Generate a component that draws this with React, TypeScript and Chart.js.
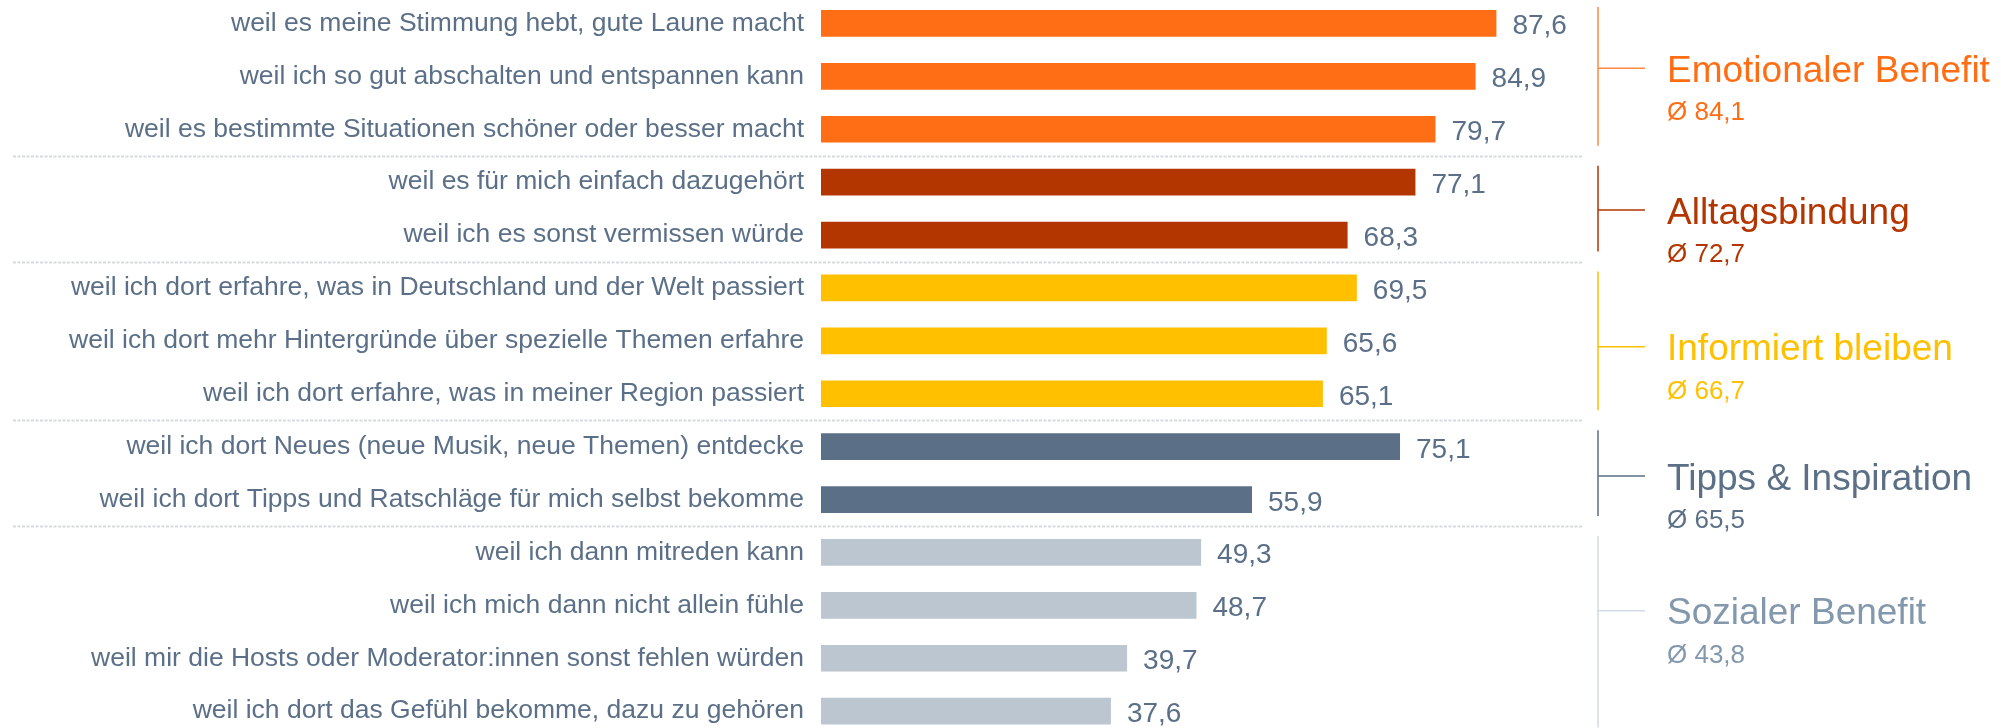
import React, { useEffect, useRef } from "react";
import { Chart, registerables } from "chart.js";

Chart.register(...registerables);

const categories = [
  "weil es meine Stimmung hebt, gute Laune macht",
  "weil ich so gut abschalten und entspannen kann",
  "weil es bestimmte Situationen schöner oder besser macht",
  "weil es für mich einfach dazugehört",
  "weil ich es sonst vermissen würde",
  "weil ich dort erfahre, was in Deutschland und der Welt passiert",
  "weil ich dort mehr Hintergründe über spezielle Themen erfahre",
  "weil ich dort erfahre, was in meiner Region passiert",
  "weil ich dort Neues (neue Musik, neue Themen) entdecke",
  "weil ich dort Tipps und Ratschläge für mich selbst bekomme",
  "weil ich dann mitreden kann",
  "weil ich mich dann nicht allein fühle",
  "weil mir die Hosts oder Moderator:innen sonst fehlen würden",
  "weil ich dort das Gefühl bekomme, dazu zu gehören",
];

const values = [87.6, 84.9, 79.7, 77.1, 68.3, 69.5, 65.6, 65.1, 75.1, 55.9, 49.3, 48.7, 39.7, 37.6];

const groupNames = [
  "Emotionaler Benefit",
  "Alltagsbindung",
  "Informiert bleiben",
  "Tipps & Inspiration",
  "Sozialer Benefit",
];
const groupMeans = [84.1, 72.7, 66.7, 65.5, 43.8];
const groupSizes = [3, 2, 3, 2, 4];

// styles
const FONT = '"Liberation Sans", Arial, Helvetica, sans-serif';
const TEXT = "#5B7088";
const barColors = ["#FF6D14", "#B33600", "#FFC000", "#5B7086", "#BCC6D0"];
const titleColors = ["#FF6D14", "#B33600", "#FFC000", "#5B7086", "#8398AD"];
const lineColors = ["#FF8A45", "#B33600", "#FFC000", "#5B7086", "#D3DAE1"];
const titleShift = [-8, 1.5, 6, 3, -21];

const fmt = (v: number) => v.toFixed(1).replace(".", ",");

const barGroup: number[] = [];
groupSizes.forEach((n, g) => {
  for (let k = 0; k < n; k++) barGroup.push(g);
});

const annotate = {
  id: "annotate",
  afterDraw(chart: any) {
    const ctx = chart.ctx as CanvasRenderingContext2D;
    const y = chart.scales.y;
    const meta = chart.getDatasetMeta(0);
    const band = y.getPixelForValue(1) - y.getPixelForValue(0);
    ctx.save();

    // value labels
    ctx.font = `28px ${FONT}`;
    ctx.fillStyle = TEXT;
    ctx.textAlign = "left";
    ctx.textBaseline = "alphabetic";
    meta.data.forEach((bar: any, i: number) => {
      ctx.fillText(fmt(values[i]), bar.x + 16, bar.y + 11);
    });

    const lineX = 1598;
    const tickEnd = 1645;
    const textX = 1667;
    let start = 0;
    groupSizes.forEach((n, g) => {
      const end = start + n - 1;
      const top = y.getPixelForValue(start) - band / 2;
      const bottom = y.getPixelForValue(end) + band / 2;

      // dotted separator
      if (end < values.length - 1) {
        ctx.save();
        ctx.strokeStyle = "#D5DBE1";
        ctx.lineWidth = 2;
        ctx.setLineDash([3, 1.5]);
        ctx.beginPath();
        ctx.moveTo(13, Math.round(bottom) + 0.5);
        ctx.lineTo(1582, Math.round(bottom) + 0.5);
        ctx.stroke();
        ctx.restore();
      }

      // bracket
      const lt = top + 10;
      const lb = bottom - 10;
      const ty = (lt + lb) / 2 + titleShift[g];
      ctx.strokeStyle = lineColors[g];
      ctx.lineWidth = 1.5;
      ctx.beginPath();
      ctx.moveTo(lineX, lt);
      ctx.lineTo(lineX, lb);
      ctx.moveTo(lineX, ty);
      ctx.lineTo(tickEnd, ty);
      ctx.stroke();

      ctx.fillStyle = titleColors[g];
      ctx.textAlign = "left";
      ctx.textBaseline = "alphabetic";
      ctx.font = `37px ${FONT}`;
      ctx.fillText(groupNames[g], textX, ty + 13.5);
      ctx.font = `26px ${FONT}`;
      ctx.fillText("\u00D8 " + fmt(groupMeans[g]), textX, ty + 52);

      start += n;
    });
    ctx.restore();
  },
};

export default function App() {
  const ref = useRef<HTMLCanvasElement | null>(null);
  useEffect(() => {
    if (!ref.current) return;
    const chart = new Chart(ref.current, {
      type: "bar",
      data: {
        labels: categories,
        datasets: [
          {
            data: values,
            backgroundColor: barGroup.map((g) => barColors[g]),
            borderWidth: 0,
            barPercentage: 0.505,
            categoryPercentage: 1,
          },
        ],
      },
      options: {
        indexAxis: "y",
        responsive: false,
        animation: false,
        devicePixelRatio: 1,
        layout: { padding: { left: 0, right: 409, top: 17, bottom: 22.4 } },
        plugins: { legend: { display: false }, tooltip: { enabled: false } },
        scales: {
          x: { display: false, min: 0, max: 100 },
          y: {
            grid: { display: false, drawTicks: false },
            border: { display: false },
            ticks: {
              autoSkip: false,
              padding: 17,
              color: TEXT,
              font: { family: FONT, size: 26.5 },
            },
            afterFit: (s: any) => {
              s.width = 821;
              s.paddingTop = 0;
              s.paddingBottom = 0;
              s.paddingLeft = 0;
              s.paddingRight = 0;
            },
          },
        },
      },
      plugins: [annotate],
    });
    return () => chart.destroy();
  }, []);
  return (
    <div
      style={{
        position: "absolute",
        left: 0,
        top: 0,
        width: 2001,
        height: 728,
        overflow: "hidden",
        background: "#fff",
      }}
    >
      <canvas
        ref={ref}
        width={2001}
        height={780}
        style={{ position: "absolute", left: 0, top: -20, width: 2001, height: 780 }}
      />
    </div>
  );
}
